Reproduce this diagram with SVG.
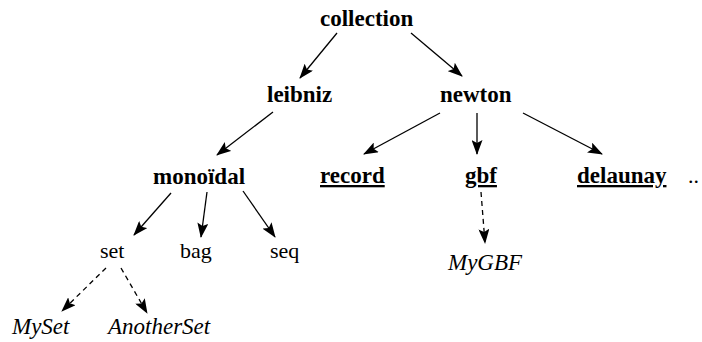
<svg xmlns="http://www.w3.org/2000/svg" width="702" height="342" viewBox="0 0 702 342">
<defs>
<marker id="ah" markerWidth="15" markerHeight="11" refX="14" refY="5.5" orient="auto" markerUnits="userSpaceOnUse">
<path d="M0,0 L15,5.5 L0,11 L3,5.5 Z" fill="#000"/>
</marker>
</defs>
<rect width="702" height="342" fill="#fff"/>
<g id="connectors" stroke="#000" stroke-width="1.3" marker-end="url(#ah)">
<line x1="337" y1="33" x2="300" y2="78"/>
<line x1="411" y1="33" x2="462" y2="76"/>
<line x1="273" y1="112" x2="217" y2="155"/>
<line x1="440" y1="113" x2="364" y2="154"/>
<line x1="477" y1="113" x2="477" y2="154"/>
<line x1="523" y1="113" x2="602" y2="154"/>
<line x1="171" y1="193" x2="134" y2="235"/>
<line x1="207" y1="192" x2="201" y2="237"/>
<line x1="243" y1="191" x2="275" y2="237"/>
<line stroke-dasharray="5,4" x1="481" y1="192" x2="485" y2="243"/>
<line stroke-dasharray="5,4" x1="106" y1="268" x2="62" y2="311"/>
<line stroke-dasharray="5,4" x1="121" y1="268" x2="147" y2="313"/>
</g>
<g id="collection"><text font-family="Liberation Serif" font-size="23" font-weight="bold" x="320" y="26">collection</text></g>
<g id="leibniz"><text font-family="Liberation Serif" font-size="23" font-weight="bold" x="267" y="102">leibniz</text></g>
<g id="newton"><text font-family="Liberation Serif" font-size="23" font-weight="bold" x="440" y="102">newton</text></g>
<g id="monoidal"><text font-family="Liberation Serif" font-size="23" font-weight="bold" x="153" y="184">mono&#239;dal</text></g>
<g id="record"><text font-family="Liberation Serif" font-size="23" font-weight="bold" text-decoration="underline" x="320" y="183">record</text></g>
<g id="gbf"><text font-family="Liberation Serif" font-size="23" font-weight="bold" text-decoration="underline" x="465" y="183">gbf</text></g>
<g id="delaunay"><text font-family="Liberation Serif" font-size="23" font-weight="bold" text-decoration="underline" x="577" y="183">delaunay</text></g>
<g id="more"><text font-family="Liberation Serif" font-size="22" x="688" y="183">..</text></g>
<g id="set"><text font-family="Liberation Serif" font-size="22" x="100" y="258">set</text></g>
<g id="bag"><text font-family="Liberation Serif" font-size="22" x="180" y="258">bag</text></g>
<g id="seq"><text font-family="Liberation Serif" font-size="22" x="270" y="258">seq</text></g>
<g id="MyGBF"><text font-family="Liberation Serif" font-size="23" font-style="italic" x="448" y="270">MyGBF</text></g>
<g id="MySet"><text font-family="Liberation Serif" font-size="23" font-style="italic" x="12" y="334">MySet</text></g>
<g id="AnotherSet"><text font-family="Liberation Serif" font-size="23" font-style="italic" x="108" y="334">AnotherSet</text></g>
</svg>
